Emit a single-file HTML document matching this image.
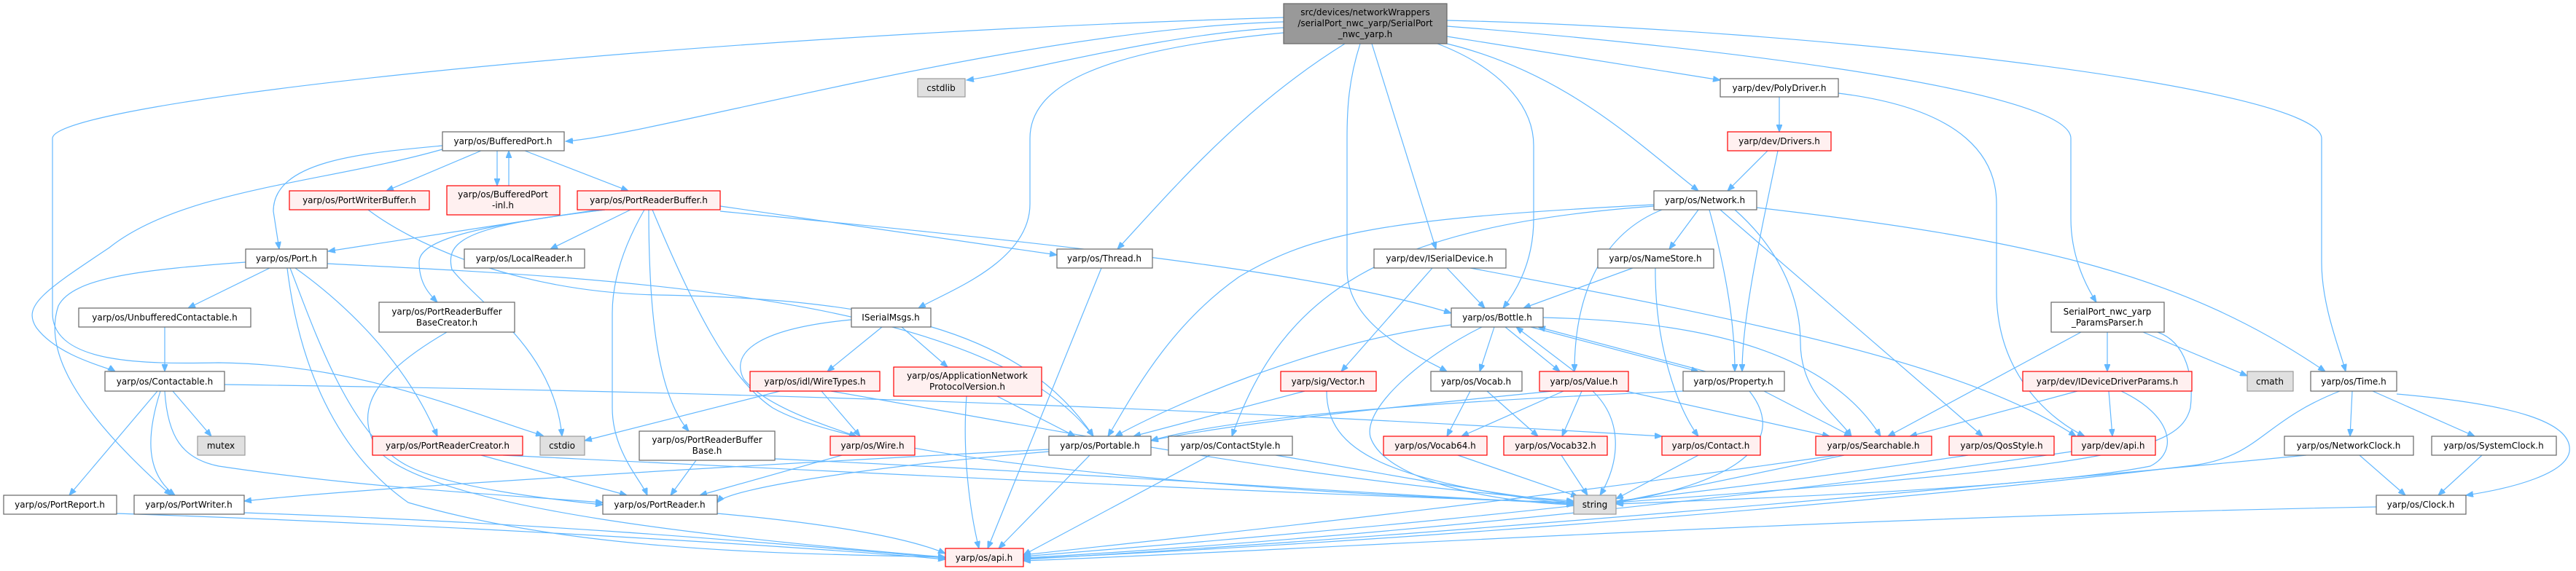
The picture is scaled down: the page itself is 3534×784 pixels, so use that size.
<!DOCTYPE html>
<html><head><meta charset="utf-8"><style>
html,body{margin:0;padding:0;background:#fff;}
svg{display:block;}
text{font-family:"DejaVu Sans","Liberation Sans",sans-serif;font-size:12px;fill:#000;text-anchor:middle;}
.n rect{fill:#fff;stroke:#666;stroke-width:1.2;}
.r rect{fill:#fff0f0;stroke:#ff0000;stroke-width:1.2;}
.g rect{fill:#e0e0e0;stroke:#999;stroke-width:1.2;}
.m rect{fill:#999;stroke:#666;stroke-width:1.2;}
.e path{fill:none;stroke:#63b8ff;stroke-width:1.2;marker-end:url(#a);}
</style></head><body>
<svg width="3534" height="784" viewBox="0 0 3534 784" xmlns="http://www.w3.org/2000/svg">
<defs><marker id="a" markerUnits="userSpaceOnUse" markerWidth="11" markerHeight="8" refX="10" refY="4" orient="auto"><path d="M0,0 L10,4 L0,8 z" fill="#63b8ff" stroke="#63b8ff"/></marker></defs>
<g class="e">
<path d="M1761,38 C1600,45 1400,100 1326,110"/>
<path d="M1761,30 C1400,40 900,185 776,194"/>
<path d="M1761,24 C900,50 72,140 72,190 L72,430 C72,500 200,500 300,498 C500,500 650,570 745,598"/>
<path d="M1761,45 C1500,70 1413,120 1413,190 L1413,280 C1413,360 1300,400 1260,423"/>
<path d="M1845,60 C1700,150 1600,270 1533,342"/>
<path d="M1882,60 L1970,342"/>
<path d="M1866,60 C1850,110 1848,150 1848,190 L1848,370 C1848,450 1950,490 1985,510"/>
<path d="M1972,60 C2050,90 2104,140 2104,200 L2104,300 C2104,360 2080,400 2062,423"/>
<path d="M1985,60 C2150,100 2250,200 2330,262"/>
<path d="M1985,50 L2360,110"/>
<path d="M1985,36 C2300,60 2841,120 2841,190 L2841,300 C2841,350 2860,390 2876,415"/>
<path d="M1985,28 C2500,40 3185,120 3185,190 L3185,360 C3185,420 3210,480 3218,510"/>
<path d="M607,200 C500,210 375,220 375,290 L383,342"/>
<path d="M607,205 C450,250 250,260 150,340 C60,400 30,420 50,450 C80,490 150,505 158,510"/>
<path d="M660,207 L530,262"/>
<path d="M682,207 L682,255"/>
<path d="M698,255 L698,207"/>
<path d="M720,207 L862,262"/>
<path d="M505,288 C560,330 700,400 900,405 C1200,410 1400,450 1500,599"/>
<path d="M820,288 L450,345"/>
<path d="M865,288 L755,342"/>
<path d="M830,288 C650,310 575,330 575,360 C575,390 590,405 600,415"/>
<path d="M830,288 C640,310 610,330 620,370 C660,420 760,480 771,599"/>
<path d="M884,288 C860,330 840,380 840,430 L840,560 C840,620 880,660 888,680"/>
<path d="M890,288 C890,420 900,540 945,592"/>
<path d="M988,283 L1450,350"/>
<path d="M988,290 C1400,330 1800,370 1991,430"/>
<path d="M895,288 C950,420 1000,520 1060,560 C1200,640 1800,680 2159,690"/>
<path d="M370,368 L258,423"/>
<path d="M337,360 C200,370 100,380 80,420 C60,480 100,560 235,680"/>
<path d="M405,368 C450,400 550,480 600,599"/>
<path d="M398,368 C430,450 480,600 560,640 C620,670 750,685 827,693"/>
<path d="M394,368 C410,500 460,620 560,690 C800,760 1100,760 1297,765"/>
<path d="M449,362 C800,380 1350,400 1500,599"/>
<path d="M226,449 L226,510"/>
<path d="M216,537 L95,680"/>
<path d="M220,537 C200,600 200,650 240,680"/>
<path d="M237,537 L290,599"/>
<path d="M226,537 C230,600 250,630 300,640 C500,670 700,680 827,690"/>
<path d="M308,528 C1200,540 1800,570 2280,599"/>
<path d="M160,705 C600,720 1100,750 1297,768"/>
<path d="M335,704 C800,720 1100,750 1297,766"/>
<path d="M984,705 C1150,720 1250,740 1297,760"/>
<path d="M613,456 C520,510 480,560 520,620 C600,700 1000,740 1297,765"/>
<path d="M660,625 L860,680"/>
<path d="M690,625 C1200,650 1800,680 2159,690"/>
<path d="M955,632 L920,680"/>
<path d="M1063,630 C1500,650 1900,680 2159,692"/>
<path d="M1210,449 L1135,510"/>
<path d="M1237,449 L1300,504"/>
<path d="M1168,439 C1050,450 1000,480 1020,520 C1050,560 1150,590 1175,599"/>
<path d="M1070,537 L802,605"/>
<path d="M1127,537 L1180,599"/>
<path d="M1140,537 C1500,600 1800,660 2159,688"/>
<path d="M1155,625 L960,680"/>
<path d="M1326,544 C1320,620 1330,700 1343,753"/>
<path d="M1368,544 L1475,599"/>
<path d="M1511,368 L1355,753"/>
<path d="M1495,625 L1370,753"/>
<path d="M1439,620 C1200,640 1000,670 984,690"/>
<path d="M1439,617 C1000,640 500,670 335,688"/>
<path d="M1660,625 L1404,762"/>
<path d="M1750,625 C1900,650 2050,680 2159,690"/>
<path d="M1790,537 L1555,599"/>
<path d="M1820,537 C1820,620 1900,660 2159,693"/>
<path d="M1985,368 L2037,423"/>
<path d="M1965,368 L1840,510"/>
<path d="M2017,368 C2400,440 2700,500 2848,599"/>
<path d="M1991,446 C1800,470 1600,560 1530,599"/>
<path d="M2050,449 L2030,510"/>
<path d="M2065,449 L2140,510"/>
<path d="M2160,510 L2080,449"/>
<path d="M2100,449 L2330,510"/>
<path d="M2340,510 L2110,449"/>
<path d="M2033,449 C1950,490 1870,560 1880,600 C1900,660 2050,690 2159,693"/>
<path d="M2117,436 C2300,440 2500,470 2580,599"/>
<path d="M2145,537 L2005,599"/>
<path d="M2170,537 L2143,599"/>
<path d="M2185,537 C2230,580 2220,640 2195,680"/>
<path d="M2230,537 L2510,599"/>
<path d="M2130,537 C1900,560 1700,580 1579,605"/>
<path d="M2017,537 L1985,599"/>
<path d="M2040,537 L2110,599"/>
<path d="M2000,625 L2165,682"/>
<path d="M2142,625 L2178,680"/>
<path d="M2240,368 L2090,423"/>
<path d="M2271,368 C2270,470 2300,560 2330,599"/>
<path d="M2330,288 L2290,342"/>
<path d="M2280,288 C2200,320 2160,400 2160,510"/>
<path d="M2345,288 C2370,380 2380,450 2380,510"/>
<path d="M2360,288 L2720,599"/>
<path d="M2380,288 C2450,350 2470,420 2470,470 C2470,540 2520,570 2540,599"/>
<path d="M2410,285 C2800,330 3000,380 3190,510"/>
<path d="M2269,281 C1900,300 1800,320 1700,380 C1600,450 1550,550 1520,599"/>
<path d="M2269,283 C1900,310 1760,400 1690,599"/>
<path d="M2420,537 L2540,599"/>
<path d="M2400,537 C2450,600 2400,660 2217,690"/>
<path d="M2309,537 C2000,550 1700,570 1579,605"/>
<path d="M2330,625 L2217,685"/>
<path d="M2530,625 L2217,690"/>
<path d="M2520,625 C2000,700 1600,740 1404,762"/>
<path d="M2700,625 C2200,700 1700,740 1404,764"/>
<path d="M2425,207 L2370,262"/>
<path d="M2439,207 C2420,300 2390,430 2390,510"/>
<path d="M2441,133 L2441,181"/>
<path d="M2522,128 C2700,150 2739,220 2739,280 L2739,400 C2739,520 2820,580 2860,599"/>
<path d="M2891,456 L2891,510"/>
<path d="M2855,456 L2590,599"/>
<path d="M2940,456 L3083,516"/>
<path d="M2960,456 C3000,470 3010,520 3005,560 C2990,620 2900,640 2217,690"/>
<path d="M2850,537 L2620,599"/>
<path d="M2893,537 L2898,599"/>
<path d="M2910,537 C2980,570 2990,620 2950,640 C2800,670 2400,685 2217,692"/>
<path d="M2842,620 C2300,700 1700,750 1404,766"/>
<path d="M3227,537 L3224,599"/>
<path d="M3255,537 L3395,599"/>
<path d="M3288,541 C3450,555 3530,580 3525,620 C3520,650 3450,670 3383,680"/>
<path d="M3210,537 C3100,580 3100,630 3000,640 C2500,700 1800,750 1404,767"/>
<path d="M3237,625 L3300,680"/>
<path d="M3164,625 C2600,680 1900,740 1404,768"/>
<path d="M3405,625 L3345,680"/>
<path d="M3260,696 C2500,710 1800,755 1404,770"/>
</g>
<g class="m"><rect x="1761" y="5" width="224" height="55"/><text x="1873" y="21">src/devices/networkWrappers</text><text x="1873" y="36">/serialPort_nwc_yarp/SerialPort</text><text x="1873" y="51">_nwc_yarp.h</text></g>
<g class="g"><rect x="1259" y="108" width="65" height="25"/><text x="1291" y="125">cstdlib</text></g>
<g class="n"><rect x="607" y="181" width="167" height="26"/><text x="690" y="198">yarp/os/BufferedPort.h</text></g>
<g class="r"><rect x="613" y="255" width="155" height="40"/><text x="690" y="271">yarp/os/BufferedPort</text><text x="690" y="286">-inl.h</text></g>
<g class="r"><rect x="397" y="262" width="192" height="26"/><text x="493" y="279">yarp/os/PortWriterBuffer.h</text></g>
<g class="r"><rect x="792" y="262" width="196" height="26"/><text x="890" y="279">yarp/os/PortReaderBuffer.h</text></g>
<g class="n"><rect x="337" y="342" width="112" height="26"/><text x="393" y="359">yarp/os/Port.h</text></g>
<g class="n"><rect x="637" y="342" width="165" height="26"/><text x="719" y="359">yarp/os/LocalReader.h</text></g>
<g class="n"><rect x="1450" y="342" width="131" height="26"/><text x="1515" y="359">yarp/os/Thread.h</text></g>
<g class="n"><rect x="1885" y="342" width="181" height="26"/><text x="1975" y="359">yarp/dev/ISerialDevice.h</text></g>
<g class="n"><rect x="2192" y="342" width="159" height="26"/><text x="2271" y="359">yarp/os/NameStore.h</text></g>
<g class="n"><rect x="2269" y="262" width="141" height="26"/><text x="2339" y="279">yarp/os/Network.h</text></g>
<g class="n"><rect x="2360" y="108" width="162" height="25"/><text x="2441" y="125">yarp/dev/PolyDriver.h</text></g>
<g class="r"><rect x="2370" y="181" width="142" height="26"/><text x="2441" y="198">yarp/dev/Drivers.h</text></g>
<g class="n"><rect x="108" y="423" width="236" height="26"/><text x="226" y="440">yarp/os/UnbufferedContactable.h</text></g>
<g class="n"><rect x="520" y="415" width="186" height="41"/><text x="613" y="432">yarp/os/PortReaderBuffer</text><text x="613" y="447">BaseCreator.h</text></g>
<g class="n"><rect x="1168" y="423" width="109" height="26"/><text x="1222" y="440">ISerialMsgs.h</text></g>
<g class="n"><rect x="1991" y="423" width="126" height="26"/><text x="2054" y="440">yarp/os/Bottle.h</text></g>
<g class="n"><rect x="2814" y="415" width="155" height="41"/><text x="2891" y="432">SerialPort_nwc_yarp</text><text x="2891" y="447">_ParamsParser.h</text></g>
<g class="n"><rect x="144" y="510" width="164" height="27"/><text x="226" y="528">yarp/os/Contactable.h</text></g>
<g class="r"><rect x="1029" y="510" width="178" height="27"/><text x="1118" y="528">yarp/os/idl/WireTypes.h</text></g>
<g class="r"><rect x="1226" y="504" width="203" height="40"/><text x="1327" y="520">yarp/os/ApplicationNetwork</text><text x="1327" y="535">ProtocolVersion.h</text></g>
<g class="r"><rect x="1757" y="510" width="131" height="27"/><text x="1822" y="528">yarp/sig/Vector.h</text></g>
<g class="n"><rect x="1963" y="510" width="125" height="27"/><text x="2025" y="528">yarp/os/Vocab.h</text></g>
<g class="r"><rect x="2112" y="510" width="122" height="27"/><text x="2173" y="528">yarp/os/Value.h</text></g>
<g class="n"><rect x="2309" y="510" width="139" height="27"/><text x="2378" y="528">yarp/os/Property.h</text></g>
<g class="r"><rect x="2775" y="510" width="232" height="27"/><text x="2891" y="528">yarp/dev/IDeviceDriverParams.h</text></g>
<g class="g"><rect x="3083" y="510" width="63" height="27"/><text x="3114" y="528">cmath</text></g>
<g class="n"><rect x="3170" y="510" width="118" height="27"/><text x="3229" y="528">yarp/os/Time.h</text></g>
<g class="g"><rect x="271" y="599" width="65" height="26"/><text x="303" y="616">mutex</text></g>
<g class="r"><rect x="511" y="599" width="206" height="26"/><text x="614" y="616">yarp/os/PortReaderCreator.h</text></g>
<g class="g"><rect x="741" y="599" width="61" height="26"/><text x="771" y="616">cstdio</text></g>
<g class="n"><rect x="877" y="592" width="186" height="40"/><text x="970" y="608">yarp/os/PortReaderBuffer</text><text x="970" y="623">Base.h</text></g>
<g class="r"><rect x="1139" y="599" width="116" height="26"/><text x="1197" y="616">yarp/os/Wire.h</text></g>
<g class="n"><rect x="1439" y="599" width="140" height="26"/><text x="1509" y="616">yarp/os/Portable.h</text></g>
<g class="n"><rect x="1603" y="599" width="170" height="26"/><text x="1688" y="616">yarp/os/ContactStyle.h</text></g>
<g class="r"><rect x="1898" y="599" width="142" height="26"/><text x="1969" y="616">yarp/os/Vocab64.h</text></g>
<g class="r"><rect x="2063" y="599" width="142" height="26"/><text x="2134" y="616">yarp/os/Vocab32.h</text></g>
<g class="r"><rect x="2280" y="599" width="135" height="26"/><text x="2347" y="616">yarp/os/Contact.h</text></g>
<g class="r"><rect x="2491" y="599" width="159" height="26"/><text x="2570" y="616">yarp/os/Searchable.h</text></g>
<g class="r"><rect x="2674" y="599" width="144" height="26"/><text x="2746" y="616">yarp/os/QosStyle.h</text></g>
<g class="r"><rect x="2842" y="599" width="115" height="26"/><text x="2899" y="616">yarp/dev/api.h</text></g>
<g class="n"><rect x="3134" y="599" width="177" height="26"/><text x="3222" y="616">yarp/os/NetworkClock.h</text></g>
<g class="n"><rect x="3336" y="599" width="171" height="26"/><text x="3421" y="616">yarp/os/SystemClock.h</text></g>
<g class="n"><rect x="5" y="680" width="155" height="26"/><text x="82" y="697">yarp/os/PortReport.h</text></g>
<g class="n"><rect x="184" y="680" width="151" height="26"/><text x="259" y="697">yarp/os/PortWriter.h</text></g>
<g class="n"><rect x="827" y="680" width="157" height="26"/><text x="905" y="697">yarp/os/PortReader.h</text></g>
<g class="g"><rect x="2159" y="680" width="58" height="26"/><text x="2188" y="697">string</text></g>
<g class="n"><rect x="3260" y="680" width="123" height="26"/><text x="3321" y="697">yarp/os/Clock.h</text></g>
<g class="r"><rect x="1297" y="753" width="107" height="25"/><text x="1350" y="770">yarp/os/api.h</text></g>
</svg>
</body></html>
